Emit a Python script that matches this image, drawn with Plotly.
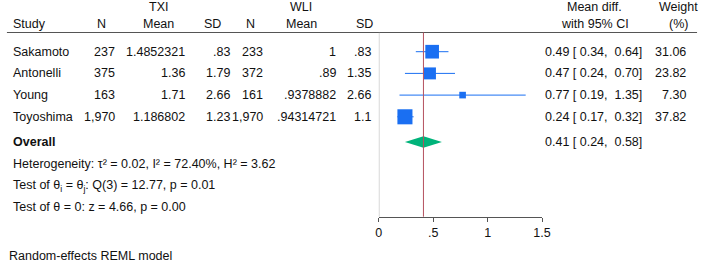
import plotly.graph_objects as go

# ---------------- data ----------------
studies = ["Sakamoto", "Antonelli", "Young", "Toyoshima"]
txi_n = ["237", "375", "163", "1,970"]
txi_mean = ["1.4852321", "1.36", "1.71", "1.186802"]
txi_sd = [".83", "1.79", "2.66", "1.23"]
wli_n = ["233", "372", "161", "1,970"]
wli_mean = ["1", ".89", ".9378882", ".94314721"]
wli_sd = [".83", "1.35", "2.66", "1.1"]
mean_diff = [0.49, 0.47, 0.77, 0.24]
ci_low = [0.34, 0.24, 0.19, 0.17]
ci_high = [0.64, 0.70, 1.35, 0.32]
weights = [31.06, 23.82, 7.30, 37.82]
overall_est = 0.41
overall_low = 0.24
overall_high = 0.58
tick_vals = [0, 0.5, 1, 1.5]
tick_text = ["0", ".5", "1", "1.5"]
het_text = "Heterogeneity: τ² = 0.02, I² = 72.40%, H² = 3.62"
q_text = "Test of θ<sub>i</sub> = θ<sub>j</sub>: Q(3) = 12.77, p = 0.01"
z_text = "Test of θ = 0: z = 4.66, p = 0.00"
note_text = "Random-effects REML model"

# ---------------- layout constants ----------------
W, H = 709, 263
FONT = "Liberation Sans, Arial, Helvetica, sans-serif"
FS = 12.5
BLUE = "#1a6ff2"
GREEN = "#00b37a"
RED = "#b4505e"
TXT = "#111111"

row0, row_step = 51.7, 21.7
row_y = [row0 + i * row_step for i in range(len(studies))]
overall_y = 142.0
stat_y = [164.0, 185.7, 207.4]
note_y = 255.5
head1_y, head2_y = 6.7, 24.0
top_line_y = 32.5
axis_y = 216.7
x0_px, x15_px = 382.3, 548.3


def px(x):
    return x / W


def py(y):
    return 1 - y / H


anns = []


def text(x, y, s, anchor="right", bold=False):
    anns.append(dict(x=px(x), y=py(y), xref="paper", yref="paper", text=("<b>%s</b>" % s) if bold else s,
                     showarrow=False, xanchor=anchor, yanchor="middle",
                     font=dict(family=FONT, size=FS, color=TXT)))


# headers
text(158, head1_y, "TXI", "center")
text(303, head1_y, "WLI", "center")
text(602, head1_y, "Mean diff.", "center")
text(687, head1_y, "Weight", "center")
text(8, head2_y, "Study", "left")
text(100, head2_y, "N", "center")
text(158, head2_y, "Mean", "center")
text(213, head2_y, "SD", "center")
text(252, head2_y, "N", "center")
text(304, head2_y, "Mean", "center")
text(368, head2_y, "SD", "center")
text(602, head2_y, "with 95% CI", "center")
text(687, head2_y, "(%)", "center")

nb = "\u00a0"
for i, s in enumerate(studies):
    y = row_y[i]
    text(8, y, s, "left")
    text(115.5, y, txi_n[i])
    text(187, y, txi_mean[i])
    text(233, y, txi_sd[i])
    text(267, y, wli_n[i])
    text(340.5, y, wli_mean[i])
    text(376, y, wli_sd[i])
    text(652, y, f"{mean_diff[i]:.2f} [{nb}{ci_low[i]:.2f},{nb}{nb}{ci_high[i]:.2f}]")
    text(696.5, y, f"{weights[i]:.2f}")

text(8, overall_y, "Overall", "left", bold=True)
text(652, overall_y, f"{overall_est:.2f} [{nb}{overall_low:.2f},{nb}{nb}{overall_high:.2f}]")
text(8, stat_y[0], het_text, "left")
text(8, stat_y[1], q_text, "left")
text(8, stat_y[2], z_text, "left")
text(4, note_y, note_text, "left")

fig = go.Figure()

# study squares with CI
fig.add_trace(go.Scatter(
    x=mean_diff, y=row_y, mode="markers",
    marker=dict(symbol="square", color=BLUE, opacity=1, size=[2.45 * w ** 0.5 for w in weights],
                line=dict(width=0)),
    error_x=dict(type="data", symmetric=False,
                 array=[h - m for h, m in zip(ci_high, mean_diff)],
                 arrayminus=[m - l for m, l in zip(mean_diff, ci_low)],
                 color=BLUE, thickness=1, width=0),
    cliponaxis=False, hoverinfo="skip", showlegend=False))

# overall diamond
dh = 5.8
fig.add_trace(go.Scatter(
    x=[overall_low, overall_est, overall_high, overall_est, overall_low],
    y=[overall_y, overall_y - dh, overall_y, overall_y + dh, overall_y],
    mode="lines", fill="toself", fillcolor=GREEN, line=dict(width=0, color=GREEN),
    hoverinfo="skip", showlegend=False))

shapes = [
    dict(type="line", xref="paper", yref="y", x0=px(4), x1=px(706), y0=top_line_y, y1=top_line_y,
         line=dict(color="#555555", width=1)),
    dict(type="line", xref="x", yref="y", x0=0, x1=0, y0=top_line_y, y1=axis_y,
         line=dict(color="#a8a8a8", width=1)),
    dict(type="line", xref="x", yref="y", x0=overall_est, x1=overall_est, y0=top_line_y, y1=axis_y,
         line=dict(color=RED, width=1)),
]

fig.update_layout(
    width=W, height=H, margin=dict(l=0, r=0, t=0, b=0),
    paper_bgcolor="white", plot_bgcolor="white",
    annotations=anns, shapes=shapes, showlegend=False,
    xaxis=dict(domain=[x0_px / W, x15_px / W], range=[0, 1.5], anchor="free", position=py(axis_y),
               showgrid=False, zeroline=False, showline=True, linecolor="#555555", linewidth=1,
               ticks="outside", ticklen=4, tickcolor="#555555", tickwidth=1,
               tickvals=tick_vals, ticktext=tick_text,
               tickfont=dict(family=FONT, size=FS, color=TXT)),
    yaxis=dict(domain=[0, 1], range=[H, 0], visible=False, showgrid=False, zeroline=False),
)

fig.write_html("out.html", config={"displayModeBar": False},
               post_script="document.body.style.margin='0';document.body.style.overflow='hidden';")
